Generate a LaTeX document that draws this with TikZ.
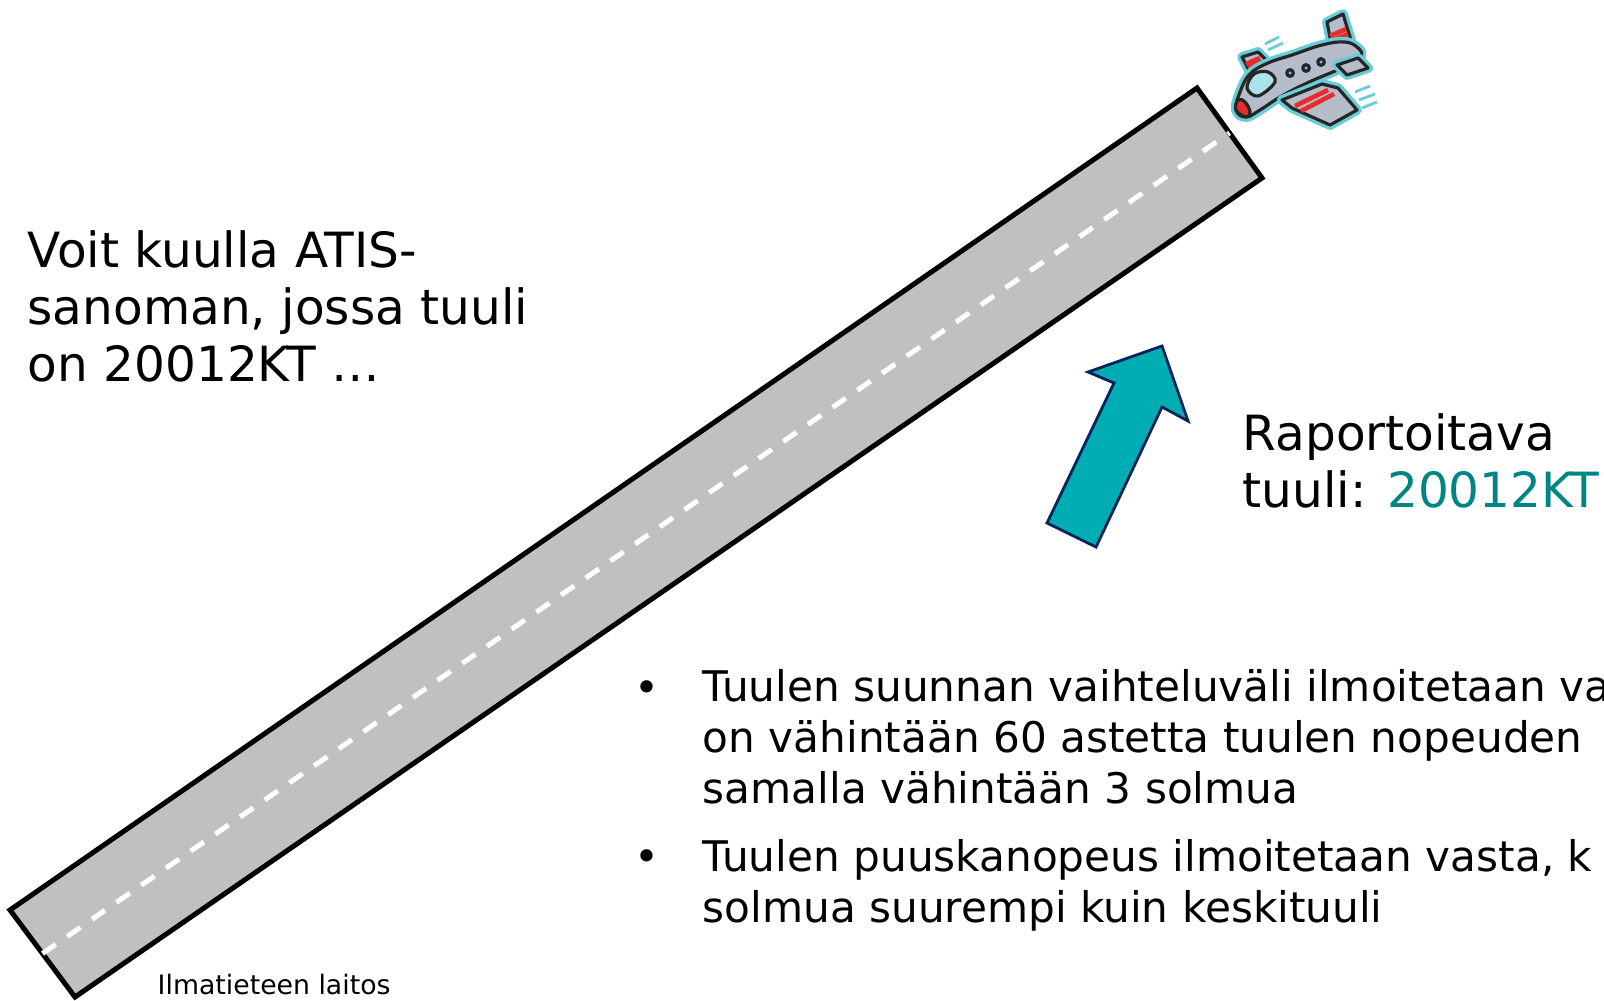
\documentclass[tikz,border=0pt]{standalone}
\usepackage{fontspec}
\setmainfont{DejaVu Sans}
\usetikzlibrary{positioning, calc}

\definecolor{runwaygray}{RGB}{192,192,192}
\definecolor{windfill}{RGB}{0,173,178}
\definecolor{windline}{RGB}{12,36,92}
\definecolor{windtext}{RGB}{0,133,133}
\definecolor{planebody}{RGB}{182,188,202}
\definecolor{planered}{RGB}{232,44,44}
\definecolor{planeglass}{RGB}{172,226,234}
\definecolor{planeglow}{RGB}{105,205,215}

\begin{document}
\begin{tikzpicture}[x=0.01cm, y=-0.01cm, line join=round,
    % multi-line nodes sit on the baseline of their last line
    bigtext/.style={font=\fontsize{13.8}{16.1}\selectfont, align=left, anchor=base west, inner sep=0pt},
    listtext/.style={font=\fontsize{12}{14.4}\selectfont, align=left, anchor=base west, inner sep=0pt},
    bulletmark/.style={font=\fontsize{12}{14.4}\selectfont, anchor=base, inner sep=0pt},
    planeline/.style={draw=black!85, line width=0.9pt},
    planepart/.style={planeline, fill=planebody, preaction={draw=planeglow, line width=2.8pt}},
    stripe/.style={planered, line width=1.3pt}]
    \useasboundingbox (0,0) rectangle (1604,1000);
    %
    % runway
    \coordinate (rw1) at (10,910);
    \coordinate (rw2) at (75,997);
    \coordinate (rw3) at (1262,178);
    \coordinate (rw4) at (1197,88);
    \draw[fill=runwaygray, line width=0.05cm, line join=miter] (rw1) -- (rw2) -- (rw3) -- (rw4) -- cycle;
    \draw[white, line width=0.05cm, dash pattern=on 0.16cm off 0.14cm]
        ($(rw1)!0.5!(rw2)$) -- ($(rw4)!0.5!(rw3)$);
    %
    % wind arrow
    \draw[fill=windfill, draw=windline, line width=0.8pt, line join=miter]
        (1047,523) -- (1114,383) -- (1088,372) -- (1162,346) -- (1188,421) -- (1162,407) -- (1096,547) -- cycle;
    %
    % aeroplane
    \draw[planepart] (1332,48) -- (1327,22) -- (1343,14) -- (1353,47) -- cycle;
    \draw[stripe] (1330,36) -- (1346,29) (1331,41) -- (1348,34);
    \draw[planepart] (1250,72) -- (1242,57) -- (1258,52) -- (1268,62) -- cycle;
    \draw[stripe] (1246,64) -- (1260,58) (1248,68) -- (1263,62);
    \draw[planepart] plot[smooth cycle, tension=0.7] coordinates {(1236,110) (1240,92) (1250,74) (1268,63)
        (1292,55) (1322,45) (1345,42) (1358,48) (1361,56) (1350,64) (1335,71) (1307,83) (1280,97) (1260,110) (1246,117)};
    \draw[planeline, fill=planered] plot[smooth cycle, tension=0.7] coordinates {(1236,110) (1238,100) (1245,102) (1250,112) (1246,117)};
    \draw[planepart] (1337,65) -- (1358,58) -- (1368,68) -- (1347,75) -- cycle;
    \draw[planepart] (1282,100) -- (1322,84) -- (1338,88) -- (1357,110) -- (1330,125) -- (1292,108) -- cycle;
    \draw[stripe] (1295,106) -- (1328,90) (1301,111) -- (1334,94);
    \draw[planeline, fill=planeglass] plot[smooth cycle, tension=0.6] coordinates {(1247,88) (1254,74) (1268,72) (1275,82) (1258,96)};
    \foreach \wx/\wy in {1290/73, 1306/68, 1321/62}
        \draw[planeline, fill=planeglow] (\wx,\wy) circle[radius=3.3];
    \draw[planeglow, line width=0.8pt] (1265,44) -- (1279,37) (1268,50) -- (1283,43)
        (1355,92) -- (1370,86) (1359,100) -- (1375,94) (1362,108) -- (1377,102);
    %
    % texts
    \node[bigtext] (atis) at (27,381) {Voit kuulla ATIS-\\sanoman, jossa tuuli\\on 20012KT …};
    \node[bigtext] (reported) at (1242,507) {Raportoitava\\tuuli: \textcolor{windtext}{20012KT}};
    \node[bulletmark] (dot1) at (647,702) {•};
    \node[listtext] (item1) at (702,803) {Tuulen suunnan vaihteluväli ilmoitetaan va\\on vähintään 60 astetta tuulen nopeuden\\samalla vähintään 3 solmua};
    \node[bulletmark] (dot2) at (647,871) {•};
    \node[listtext] (item2) at (702,922) {Tuulen puuskanopeus ilmoitetaan vasta, k\\solmua suurempi kuin keskituuli};
    \node[font=\fontsize{7.6}{9}\selectfont, anchor=base west, inner sep=0pt] (fmi) at (157,994) {Ilmatieteen laitos};
\end{tikzpicture}
\end{document}
